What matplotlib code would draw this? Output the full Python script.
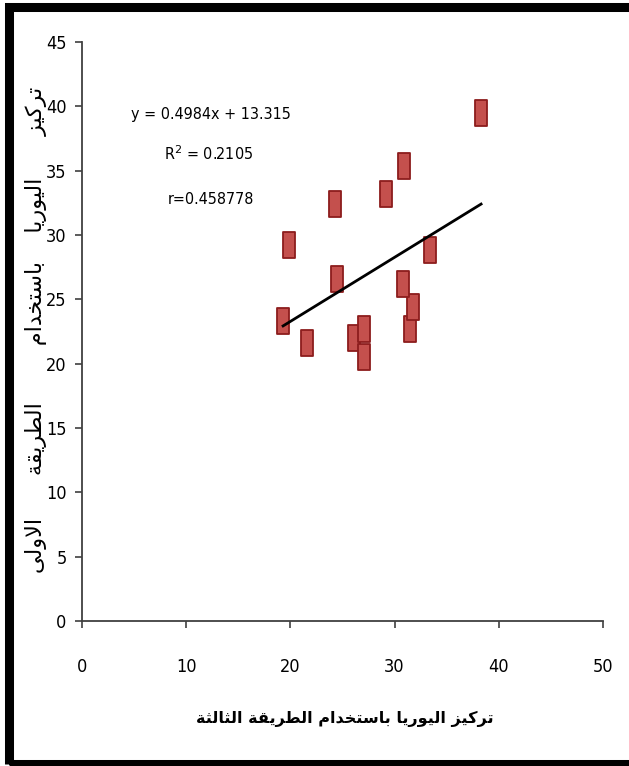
import matplotlib
matplotlib.use("Agg")
import matplotlib.pyplot as plt
import numpy as np
from matplotlib.path import Path
from matplotlib.patches import Rectangle

# urea concentration: third method (x) vs first method (y)
x_third = [19.3, 21.6, 26.1, 27.1, 27.1, 31.5, 31.8, 24.3, 29.2, 19.9, 24.5, 33.4, 30.8, 38.3, 30.9]
y_first = [23.3, 21.6, 22.0, 22.7, 20.5, 22.7, 24.4, 32.4, 33.2, 29.2, 26.6, 28.8, 26.2, 39.5, 35.4]

slope = 0.4984
intercept = 13.315
r_squared = 0.2105
r_value = 0.458778

x_ticks = [0, 10, 20, 30, 40, 50]
y_ticks = [0, 5, 10, 15, 20, 25, 30, 35, 40, 45]

x_title = "تركيز اليوريا باستخدام الطريقة الثالثة"
y_title = "تركيز      اليوريا    باستخدام        الطريقة      الاولى"


# --- minimal arabic shaping (matplotlib has no complex text layout) ---
# isolated, final, initial, medial presentation forms
FORMS = {
    "ا": ("\uFE8D", "\uFE8E", None, None),
    "ب": ("\uFE8F", "\uFE90", "\uFE91", "\uFE92"),
    "ة": ("\uFE93", "\uFE94", None, None),
    "ت": ("\uFE95", "\uFE96", "\uFE97", "\uFE98"),
    "ث": ("\uFE99", "\uFE9A", "\uFE9B", "\uFE9C"),
    "خ": ("\uFEA5", "\uFEA6", "\uFEA7", "\uFEA8"),
    "د": ("\uFEA9", "\uFEAA", None, None),
    "ر": ("\uFEAD", "\uFEAE", None, None),
    "ز": ("\uFEAF", "\uFEB0", None, None),
    "س": ("\uFEB1", "\uFEB2", "\uFEB3", "\uFEB4"),
    "ط": ("\uFEC1", "\uFEC2", "\uFEC3", "\uFEC4"),
    "ق": ("\uFED5", "\uFED6", "\uFED7", "\uFED8"),
    "ك": ("\uFED9", "\uFEDA", "\uFEDB", "\uFEDC"),
    "ل": ("\uFEDD", "\uFEDE", "\uFEDF", "\uFEE0"),
    "م": ("\uFEE1", "\uFEE2", "\uFEE3", "\uFEE4"),
    "و": ("\uFEED", "\uFEEE", None, None),
    "ى": ("\uFEEF", "\uFEF0", None, None),
    "ي": ("\uFEF1", "\uFEF2", "\uFEF3", "\uFEF4"),
    "لا": ("\uFEFB", "\uFEFC", None, None),
}


def shape(text):
    # split into letters, merging lam-alef
    units = []
    i = 0
    while i < len(text):
        if text[i] == "ل" and i + 1 < len(text) and text[i + 1] == "ا":
            units.append("لا")
            i += 2
        else:
            units.append(text[i])
            i += 1

    out = []
    for k, u in enumerate(units):
        if u not in FORMS:
            out.append(u)
            continue
        iso, fin, ini, med = FORMS[u]
        prev = units[k - 1] if k > 0 else None
        nxt = units[k + 1] if k + 1 < len(units) else None
        join_prev = prev in FORMS and FORMS[prev][2] is not None
        join_next = ini is not None and nxt in FORMS
        if join_prev and join_next:
            out.append(med)
        elif join_prev:
            out.append(fin)
        elif join_next:
            out.append(ini)
        else:
            out.append(iso)
    return "".join(reversed(out))


W, H = 629, 766


def px(x, y):
    # pixel position (from top-left) to figure fraction
    return x / W, 1 - y / H


fig = plt.figure(figsize=(W / 100, H / 100), dpi=100)
ax = fig.add_axes([82 / W, 1 - 621 / H, (603 - 82) / W, (621 - 42) / H])

# tall rectangular markers
rect = Path([(-0.23, -0.5), (0.23, -0.5), (0.23, 0.5), (-0.23, 0.5), (-0.23, -0.5)],
            [Path.MOVETO, Path.LINETO, Path.LINETO, Path.LINETO, Path.CLOSEPOLY])
ax.plot(x_third, y_first, linestyle="none", marker=rect, markersize=18.7,
        markerfacecolor="#C4504D", markeredgecolor="#8C1D1D", markeredgewidth=1.3,
        zorder=3)

# linear trendline over the data range
xs = np.array([min(x_third), max(x_third)])
ax.plot(xs, slope * xs + intercept, color="black", linewidth=2.0, zorder=4)

num_font = dict(family="DejaVu Sans", stretch="condensed", fontsize=13)
stat_font = dict(family="DejaVu Sans", stretch="condensed", fontsize=11.5)

ax.set_xlim(0, 50)
ax.set_ylim(0, 45)
ax.set_xticks(x_ticks)
ax.set_yticks(y_ticks)
ax.set_xticklabels([str(v) for v in x_ticks], **num_font)
ax.set_yticklabels([str(v) for v in y_ticks], **num_font)

for side in ("top", "right"):
    ax.spines[side].set_visible(False)
for side in ("left", "bottom"):
    ax.spines[side].set_color("#404040")
    ax.spines[side].set_linewidth(1.3)
ax.tick_params(axis="both", direction="out", length=5, width=1.2, color="#404040")
ax.tick_params(axis="x", pad=22)
ax.tick_params(axis="y", pad=6)

# regression statistics
fig.text(*px(211, 114), f"y = {slope}x + {intercept}", ha="center", va="center", **stat_font)
fig.text(*px(209, 154), f"R$^2$ = {r_squared}", ha="center", va="center", **stat_font)
fig.text(*px(211, 199), f"r={r_value}", ha="center", va="center", **stat_font)

fig.text(*px(345, 719), shape(x_title), fontsize=11.5, fontweight="bold",
         family="DejaVu Sans", ha="center", va="center")
fig.text(*px(36, 330), shape(y_title), fontsize=16, rotation=90,
         family="DejaVu Sans", ha="center", va="center")

# thick frame round the whole figure
fig.patches.append(Rectangle((9 / W, 2 / H), 622 / W, 757 / H,
                             transform=fig.transFigure, fill=False,
                             edgecolor="black", linewidth=6.5, clip_on=False))

fig.savefig("out.png", dpi=100)
